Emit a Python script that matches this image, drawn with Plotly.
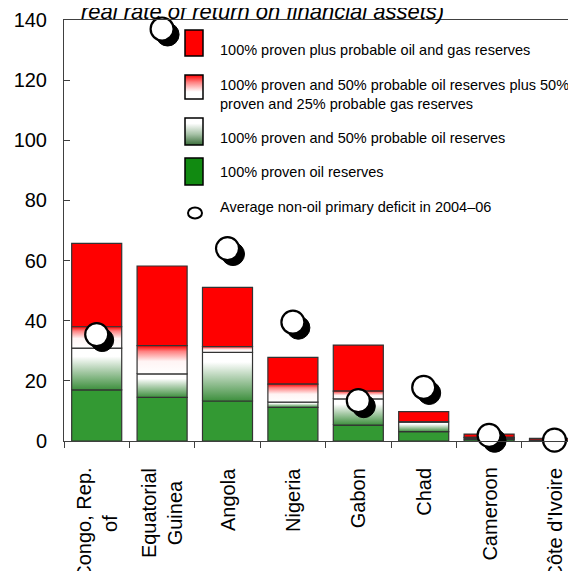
import base64
import plotly.graph_objects as go

# ---------------- data ----------------
countries = ["Congo, Rep.<br>of", "Equatorial<br>Guinea", "Angola", "Nigeria",
             "Gabon", "Chad", "Cameroon", "Côte d'Ivoire"]
# cumulative reserve levels (each scenario is a total)
proven_oil = [17.0, 14.5, 13.3, 11.2, 5.3, 3.1, 0.5, 0.1]
proven_50prob_oil = [30.9, 22.3, 29.5, 12.9, 14.0, 6.3, 0.9, 0.2]
mixed_oil_gas = [38.0, 31.7, 31.4, 18.9, 16.6, 6.4, 1.2, 0.3]
all_oil_gas = [65.7, 58.2, 51.1, 27.8, 31.9, 9.8, 2.3, 0.9]
nonoil_deficit = [35.4, 137.0, 64.0, 39.5, 13.4, 17.8, 1.9, 0.3]
y_ticks = [0, 20, 40, 60, 80, 100, 120, 140]
legend_labels = [
    "100% proven plus probable oil and gas reserves",
    "100% proven and 50% probable oil reserves plus 50%<br>proven and 25% probable gas reserves",
    "100% proven and 50% probable oil reserves",
    "100% proven oil reserves",
    "Average non-oil primary deficit in 2004–06",
]
title_text = "real rate of return on financial assets)"

# ---------------- layout constants (window pixels) ----------------
WIN_W, WIN_H = 576, 571
OFF = 8                      # default page body margin
W, H = WIN_W - OFF, WIN_H - OFF
ML, MT = 64, 20              # plot-area left / top in window pixels
PLOT_BOTTOM = 441            # y = 0 in window pixels
PW = WIN_W - ML
PH = PLOT_BOTTOM - MT
CAT_PX = 65.4
Y_MAX = 140
X_RANGE = [-0.5, -0.5 + PW / CAT_PX]
PX_Y = PH / Y_MAX
BAR_W = 0.765
FONT = "Liberation Sans, Arial, sans-serif"
GREEN = "#339933"
RED = "#ff0000"
EDGE = "#333333"


def px_to_paper(xp, yp):
    return (xp - ML) / PW, (PLOT_BOTTOM - yp) / PH


idx = list(range(len(countries)))
fig = go.Figure()

# solid green (proven oil)
fig.add_trace(go.Bar(x=idx, y=proven_oil, width=BAR_W,
                     marker=dict(color=GREEN, line=dict(color=EDGE, width=1.2)),
                     hoverinfo="skip", showlegend=False))
# solid red (all oil & gas) on top of mixed scenario
fig.add_trace(go.Bar(x=idx, y=[a - m for a, m in zip(all_oil_gas, mixed_oil_gas)],
                     base=mixed_oil_gas, width=BAR_W,
                     marker=dict(color=RED, line=dict(color=EDGE, width=1.2)),
                     hoverinfo="skip", showlegend=False))

green_cs = [[0, "#3d8f3d"], [0.5, "#b5d2b5"], [0.8, "#ffffff"], [1, "#ffffff"]]
pink_cs = [[0, "#ffffff"], [0.45, "#fff4f4"], [0.8, "#ff8080"], [1, "#ff0000"]]

for i in idx:
    segs = [(proven_oil[i], proven_50prob_oil[i], green_cs),
            (proven_50prob_oil[i], mixed_oil_gas[i], pink_cs)]
    for lo, hi, cs in segs:
        xs = [i - BAR_W / 2, i + BAR_W / 2, i + BAR_W / 2, i - BAR_W / 2, i - BAR_W / 2]
        ys = [lo, lo, hi, hi, lo]
        fig.add_trace(go.Scatter(x=xs, y=ys, mode="lines", fill="toself",
                                 fillgradient=dict(type="vertical", colorscale=cs),
                                 line=dict(color=EDGE, width=1.2),
                                 hoverinfo="skip", showlegend=False))

# deficit markers with shadow
SH = 5.5
fig.add_trace(go.Scatter(x=[i + SH / CAT_PX for i in idx],
                         y=[v - SH / PX_Y for v in nonoil_deficit],
                         mode="markers", cliponaxis=False,
                         marker=dict(size=23, color="black", line=dict(color="black", width=1)),
                         hoverinfo="skip", showlegend=False))
fig.add_trace(go.Scatter(x=idx, y=nonoil_deficit, mode="markers", cliponaxis=False,
                         marker=dict(size=23, color="white", line=dict(color="black", width=2.2)),
                         hoverinfo="skip", showlegend=False))

# ---------------- legend (custom) ----------------
def grad_uri(stops):
    s = "".join(f"<stop offset='{o}' stop-color='{c}'/>" for o, c in stops)
    svg = ("<svg xmlns='http://www.w3.org/2000/svg' width='18' height='26' "
           "preserveAspectRatio='none' viewBox='0 0 18 26'><defs>"
           "<linearGradient id='g' x1='0' y1='0' x2='0' y2='1'>" + s +
           "</linearGradient></defs><rect width='18' height='26' fill='url(#g)'/></svg>")
    return "data:image/svg+xml;base64," + base64.b64encode(svg.encode()).decode()

sw_x0, sw_x1 = 185, 203
swatches = [
    (30, 56, "solid", RED),
    (75, 99, "grad", [(0, "#ff0000"), (0.3, "#ff8080"), (0.7, "#ffffff"), (1, "#ffffff")]),
    (118, 145, "grad", [(0, "#ffffff"), (0.2, "#ffffff"), (0.6, "#a7c2a7"), (1, "#3a6e3a")]),
    (158, 185, "solid", "#118a11"),
]
shapes = []
images = []
for y0p, y1p, kind, col in swatches:
    px0, py0 = px_to_paper(sw_x0, y0p)
    px1, py1 = px_to_paper(sw_x1, y1p)
    if kind == "solid":
        shapes.append(dict(type="rect", xref="paper", yref="paper", x0=px0, x1=px1,
                           y0=py1, y1=py0, fillcolor=col, line=dict(color="black", width=1.5),
                           layer="above"))
    else:
        images.append(dict(source=grad_uri(col), xref="paper", yref="paper", x=px0, y=py0,
                           sizex=px1 - px0, sizey=py0 - py1, xanchor="left", yanchor="top",
                           sizing="stretch", layer="above"))
        shapes.append(dict(type="rect", xref="paper", yref="paper", x0=px0, x1=px1,
                           y0=py1, y1=py0, line=dict(color="black", width=1.5),
                           layer="above"))
cx, cy = px_to_paper(195, 213)
shapes.append(dict(type="circle", xref="paper", yref="paper", xsizemode="pixel",
                   ysizemode="pixel", xanchor=cx, yanchor=cy, x0=-7, x1=7, y0=-5.5, y1=5.5,
                   line=dict(color="black", width=2), fillcolor="white", layer="above"))

annotations = []
leg_y = [50, 94.5, 138, 172, 207]
for lab, yp in zip(legend_labels, leg_y):
    ax, ay = px_to_paper(218, yp)
    annotations.append(dict(text=lab, xref="paper", yref="paper", x=ax, y=ay,
                            xanchor="left", yanchor="middle", align="left",
                            showarrow=False, font=dict(size=14.5, color="black", family=FONT)))

# category labels (rotated)
_, lab_y = px_to_paper(0, 466)
for i, c in zip(idx, countries):
    annotations.append(dict(text=c, xref="x", yref="paper", x=i, y=lab_y, textangle=-90,
                            xanchor="center", yanchor="top", align="center",
                            showarrow=False, font=dict(size=20, color="black", family=FONT)))

# cut-off title line
tx, ty = px_to_paper(79, 26)
annotations.append(dict(text="<i>" + title_text + "</i>", xref="paper", yref="paper",
                        x=tx, y=ty, xanchor="left", yanchor="bottom", showarrow=False,
                        font=dict(size=22, color="black", family=FONT)))

fig.update_layout(
    width=W, height=H,
    margin=dict(l=ML - OFF, r=0, t=MT - OFF, b=H - (PLOT_BOTTOM - OFF), pad=0),
    paper_bgcolor="white", plot_bgcolor="white",
    barmode="overlay",
    showlegend=False,
    font=dict(family=FONT, color="black"),
    shapes=shapes, images=images, annotations=annotations,
    xaxis=dict(range=X_RANGE, showgrid=False, zeroline=False, showline=True,
               linecolor="#404040", linewidth=1, mirror=True,
               tickvals=idx, ticktext=[""] * len(idx), ticks="", showticklabels=False,
               minor=dict(tickmode="array", tickvals=[i - 0.5 for i in range(len(idx) + 1)],
                          ticks="outside", ticklen=6, tickcolor="#404040", tickwidth=1,
                          showgrid=False)),
    yaxis=dict(range=[0, Y_MAX], tickvals=y_ticks, ticks="inside", ticklen=6,
               tickcolor="#404040", showgrid=False, zeroline=False, showline=True,
               linecolor="#404040", linewidth=1, ticklabelstandoff=12,
               tickfont=dict(size=20, color="black", family=FONT)),
)

fig.write_html("out.html")
